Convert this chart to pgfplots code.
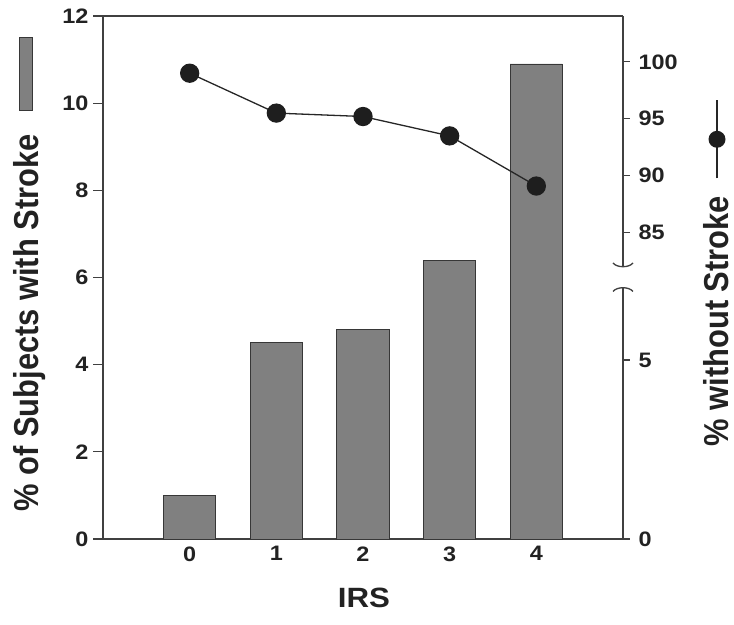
\documentclass[border=0pt]{standalone}
\usepackage{fontspec}
\setmainfont{Liberation Sans}[FakeStretch=1.12]
\newfontfamily\rotfont{Liberation Sans}[FakeStretch=0.893]
\usepackage{pgfplots}
\pgfplotsset{compat=1.18}
\definecolor{barfill}{RGB}{128,128,128}
\definecolor{baredge}{RGB}{55,55,55}
\definecolor{axcol}{RGB}{64,64,64}
\definecolor{txt}{RGB}{34,34,34}
\definecolor{dot}{RGB}{30,30,30}
\begin{document}
\begin{tikzpicture}
\pgfplotsset{
 common/.style={width=520bp, height=523bp, scale only axis, xmin=-1, xmax=5, clip=false,
   ticklabel style={font=\fontsize{21}{24}\selectfont\bfseries, text=txt},
   /pgf/number format/assume math mode=true,
   tick style={axcol, line width=1.3bp},
   axis line style={axcol, line width=1.5bp},
   tick align=outside,
 }
}
\begin{axis}[common, at={(0,0)}, anchor=south west,
  axis x line*=bottom, axis y line*=left,
  ymin=0, ymax=12, ytick={0,2,...,12},
  xtick=\empty,
  extra x ticks={0,1,2,3,4},
  extra x tick style={major tick length=0pt, tick style={draw=none}},
  major tick length=10bp,
  yticklabel style={xshift=-1bp},
  xticklabel style={yshift=-4bp},
]
\addplot[ybar, bar width=52.3bp, fill=barfill, draw=baredge, line width=0.8bp]
  coordinates {(0,1.0) (1,4.5) (2,4.8) (3,6.4) (4,10.9)};
\draw[axcol, line width=1.5bp] (rel axis cs:0,1) -- (rel axis cs:1,1);
\end{axis}
\begin{axis}[common, at={(0,0)}, anchor=south west,
  axis x line=none, axis y line*=right, axis line style={draw=none},
  ymin=58.13, ymax=104.02,
  ytick={58.13,73.83,85,90,95,100}, yticklabels={0,5,85,90,95,100},
  major tick length=7bp,
  yticklabel style={xshift=5bp},
]
\addplot[color=black!85, line width=1.3bp, mark=*, mark size=9bp,
  mark options={fill=dot, draw=dot}]
  coordinates {(0,99.0) (1,95.5) (2,95.2) (3,93.5) (4,89.1)};
\draw[axcol, line width=1.5bp] (axis cs:5,58.13) -- (axis cs:5,80.2);
\draw[axcol, line width=1.5bp] (axis cs:5,82.0) -- (axis cs:5,104.02);
\draw[axcol, line width=1.3bp] ([xshift=-10bp,yshift=4bp]axis cs:5,82.0) .. controls ([xshift=-6bp,yshift=-1bp]axis cs:5,82.0) and ([xshift=6bp,yshift=-1bp]axis cs:5,82.0) .. ([xshift=10bp,yshift=4bp]axis cs:5,82.0);
\draw[axcol, line width=1.3bp] ([xshift=-10bp,yshift=-4bp]axis cs:5,80.2) .. controls ([xshift=-6bp,yshift=1bp]axis cs:5,80.2) and ([xshift=6bp,yshift=1bp]axis cs:5,80.2) .. ([xshift=10bp,yshift=-4bp]axis cs:5,80.2);
\end{axis}
\node[rotate=90, anchor=base, font=\rotfont\fontsize{34.7}{40}\selectfont\bfseries, text=txt] at (-64bp,264.5bp)
  {\% of Subjects with Stroke\hspace{23bp}\tikz[baseline=-13bp]\draw[fill=barfill, draw=baredge, line width=0.8bp] (0,-6.35bp) rectangle (73bp,6.35bp);};
\node[rotate=90, anchor=base, font=\rotfont\fontsize{34.7}{40}\selectfont\bfseries, text=txt] at (625bp,266bp)
  {\% without Stroke\hspace{17bp}\tikz[baseline=-11bp]{\draw[black!85, line width=1.3bp] (0,0) -- (78bp,0); \fill[dot] (39bp,0) circle (8.5bp);}};
\node[anchor=base, font=\fontsize{28}{32}\selectfont\bfseries, text=txt] at (261bp,-68bp) {IRS};
\pgfresetboundingbox
\useasboundingbox (-103bp,-86bp) rectangle (631bp,539bp);
\end{tikzpicture}
\end{document}
